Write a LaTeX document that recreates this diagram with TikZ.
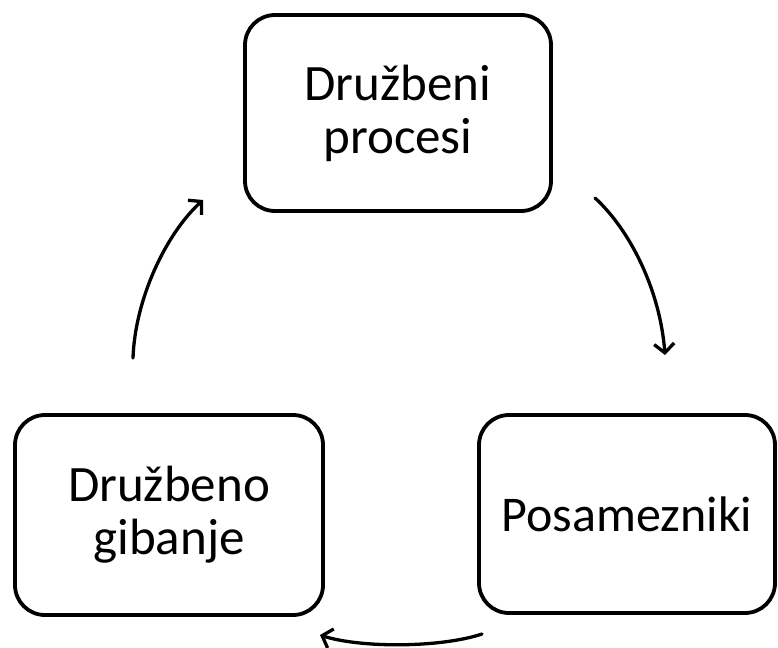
\documentclass[tikz,border=0pt]{standalone}
\usepackage{fontspec}
\setmainfont{Carlito}
\usetikzlibrary{arrows.meta}
\begin{document}
\begin{tikzpicture}[x=1pt,y=-1pt,
  box/.style={draw=black, line width=3.8pt, rounded corners=30pt, fill=white,
    align=center, inner sep=0pt, font=\fontsize{51}{53}\selectfont},
  conn/.style={line width=3.3pt, line cap=round, -{Straight Barb[length=9pt,width=20pt,line width=3.3pt]}}]
\useasboundingbox (0,0) rectangle (778,647);
\node[box, minimum width=306pt, minimum height=196pt] (top) at (398,113) {Družbeni\\procesi};
\node[box, minimum width=308pt, minimum height=200pt] (bl) at (169,515) {Družbeno\\gibanje};
\node[box, minimum width=296pt, minimum height=198pt, font=\fontsize{50}{53}\selectfont] (br) at (627,514) {Posamezniki};
\coordinate (a1s) at (595,198);
\coordinate (a1e) at (665,355);
\coordinate (a2s) at (482,634);
\coordinate (a2e) at (320,635);
\coordinate (a3s) at (133,358);
\coordinate (a3e) at (203,200);
\draw[conn] (a1s) .. controls (630,230) and (660,290) .. (a1e);
\draw[conn] (a2s) .. controls (440,648) and (360,648) .. (a2e);
\draw[conn] (a3s) .. controls (135,300) and (165,235) .. (a3e);
\end{tikzpicture}
\end{document}
